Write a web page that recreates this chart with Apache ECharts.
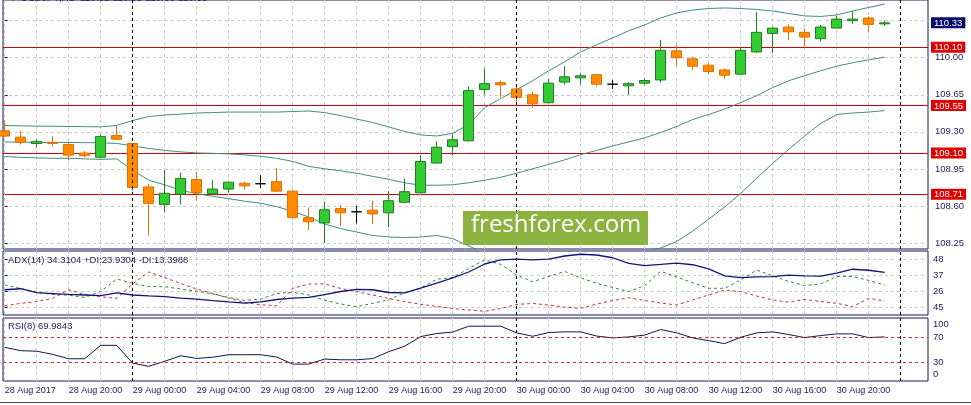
<!DOCTYPE html>
<html><head><meta charset="utf-8">
<script src="https://cdn.jsdelivr.net/npm/echarts@6/dist/echarts.min.js"></script>
<style>html,body{margin:0;padding:0;background:#fff}#c{width:971px;height:405px}</style>
</head><body><div id="c"></div>
<script>
// ---- data (hourly candles, index 0 = 28 Aug 16:00) ----
const open = [109.31,109.25,109.19,109.20,109.18,109.10,109.06,109.265,109.19,108.78,
108.615,108.71,108.85,108.715,108.76,108.815,108.81,108.83,108.74,108.49,
108.44,108.575,108.545,108.56,108.535,108.635,108.725,109.005,109.16,109.215,
109.70,109.765,109.705,109.65,109.575,109.77,109.81,109.84,109.75,109.735,
109.76,109.79,110.065,109.99,109.93,109.885,109.845,110.055,110.23,110.29,
110.24,110.18,110.28,110.35,110.375,110.32];
const high = [109.41,109.31,109.23,109.26,109.20,109.12,109.27,109.36,109.19,108.81,
108.94,108.915,108.92,108.845,108.825,108.83,108.89,108.96,108.755,108.585,
108.64,108.61,108.60,108.65,108.74,108.86,109.08,109.21,109.275,109.73,
109.895,109.785,109.73,109.68,109.80,109.92,109.85,109.84,109.79,109.77,
109.805,110.17,110.12,110.01,109.95,109.90,110.10,110.43,110.29,110.315,
110.275,110.31,110.395,110.44,110.39,110.35];
const low = [109.25,109.18,109.15,109.16,109.03,109.06,109.055,109.23,108.74,108.32,
108.54,108.615,108.65,108.71,108.73,108.755,108.77,108.73,108.48,108.37,
108.25,108.41,108.435,108.43,108.40,108.63,108.72,109.00,109.08,109.21,
109.65,109.625,109.565,109.525,109.575,109.745,109.75,109.73,109.705,109.65,
109.745,109.765,109.925,109.885,109.845,109.80,109.845,110.045,110.045,110.165,
110.105,110.155,110.28,110.32,110.245,110.30];
const close = [109.26,109.20,109.21,109.19,109.08,109.075,109.255,109.23,108.775,108.625,
108.72,108.86,108.725,108.76,108.825,108.79,108.81,108.74,108.49,108.45,
108.565,108.535,108.545,108.525,108.65,108.735,109.02,109.155,109.225,109.69,
109.755,109.745,109.625,109.565,109.76,109.82,109.83,109.75,109.75,109.755,
109.785,110.07,110.00,109.92,109.87,109.835,110.07,110.24,110.28,110.245,
110.195,110.29,110.365,110.365,110.315,110.33];

const bbUpper = [109.360,109.357,109.354,109.353,109.351,109.349,109.347,109.360,109.407,109.445,
109.459,109.468,109.478,109.482,109.487,109.487,109.487,109.487,109.492,109.497,
109.482,109.454,109.421,109.388,109.346,109.304,109.271,109.261,109.285,109.370,
109.529,109.614,109.699,109.783,109.877,109.962,110.056,110.122,110.188,110.254,
110.310,110.376,110.423,110.451,110.465,110.470,110.465,110.456,110.442,110.418,
110.395,110.390,110.404,110.442,110.475,110.508];
const bbMiddle = [109.205,109.203,109.200,109.200,109.200,109.198,109.197,109.191,109.167,109.144,
109.125,109.111,109.101,109.097,109.092,109.083,109.069,109.050,109.021,108.974,
108.951,108.932,108.909,108.880,108.852,108.819,108.796,108.796,108.800,108.819,
108.843,108.871,108.909,108.951,108.993,109.036,109.085,109.125,109.167,109.205,
109.243,109.294,109.351,109.417,109.464,109.515,109.577,109.642,109.718,109.783,
109.831,109.877,109.920,109.953,109.981,110.005];
const bbLower = [109.068,109.059,109.054,109.050,109.050,109.045,109.040,109.045,108.937,108.843,
108.800,108.749,108.716,108.692,108.669,108.645,108.626,108.593,108.551,108.495,
108.429,108.386,108.354,108.321,108.307,108.302,108.307,108.321,108.292,108.222,
108.156,108.128,108.118,108.118,108.109,108.109,108.109,108.137,108.147,108.156,
108.175,108.203,108.264,108.363,108.476,108.589,108.720,108.862,109.003,109.134,
109.262,109.379,109.464,109.478,109.487,109.501];

const adx = [27.2,27.9,25.2,24.6,24.0,23.6,23.1,25.1,23.6,23.0,
22.5,21.5,20.7,19.7,18.8,18.0,18.8,20.5,21.4,21.9,
23.8,26.0,27.5,27.2,25.3,25.1,28.3,31.8,35.3,39.4,
44.9,47.7,48.3,47.7,48.3,50.4,51.6,51.1,49.2,45.3,
43.8,44.6,45.5,44.4,41.5,36.7,35.5,36.1,36.2,37.3,
36.7,36.5,38.7,41.3,40.6,39.2];
const plusDI = [30.5,28.1,25.5,23.9,23.5,21.9,26.0,34.6,31.6,29.4,
29.3,27.7,26.2,24.3,21.9,19.8,20.8,24.6,25.5,23.6,
20.0,17.4,15.6,17.8,20.5,25.0,28.4,34.4,35.6,41.8,
47.7,44.7,37.3,32.7,36.3,39.8,35.4,31.6,28.8,25.9,
30.1,39.9,36.0,32.0,28.2,28.2,33.9,40.8,36.7,32.9,
30.1,31.2,36.3,36.3,33.6,30.5];
const minusDI = [16.2,17.8,19.1,21.3,27.2,23.9,22.4,21.3,31.2,39.4,
35.6,31.5,27.7,24.6,21.5,18.4,16.9,16.2,28.1,31.2,
31.2,28.1,25.8,23.6,21.2,19.1,17.2,15.7,14.3,13.3,
12.4,14.3,17.1,17.8,16.7,15.3,14.4,17.4,19.8,21.7,
19.8,18.1,16.7,20.2,23.6,27.0,25.9,22.9,20.2,18.6,
20.6,19.1,17.9,15.6,21.3,19.5];
const rsi = [53.5,48.1,47.3,42.3,35.3,35.3,56.6,56.6,28.4,23.3,
31.3,40.1,35.8,37.7,41.7,41.7,41.7,38.0,26.8,26.8,
34.8,33.7,33.7,35.6,46.5,55.3,70.5,75.3,77.7,87.0,
87.0,87.0,76.4,71.0,76.9,78.0,78.0,71.3,68.4,70.0,
72.9,81.7,76.4,68.4,64.1,59.3,69.4,76.4,78.0,73.7,
68.9,72.1,74.8,74.8,68.9,70.0];

const timeTickLabels = ['28 Aug 2017','28 Aug 20:00','29 Aug 00:00','29 Aug 04:00','29 Aug 08:00','29 Aug 12:00','29 Aug 16:00','29 Aug 20:00','30 Aug 00:00','30 Aug 04:00','30 Aug 08:00','30 Aug 12:00','30 Aug 16:00','30 Aug 20:00'];
const timeTickIndex = [0,4,8,12,16,20,24,28,32,36,40,44,48,52];
const timeGridIndex = [0,2,4,6,8,10,12,14,16,18,20,22,24,26,28,30,32,34,36,38,40,42,44,46,48,50,52,54,56];
const daySeparators = [8,32,56];
const priceTickValues = [108.25,108.60,108.95,109.30,109.65,110.00];
const priceGridValues = [108.25,108.60,108.95,109.30,109.65,110.00,110.35];
const levelLines = [110.10,109.55,109.10,108.71];
const lastPrice = 110.33;
const adxTickValues = [48,37,26,15];
const adxTickLabels = ['48','37','26','45'];
const rsiTickValues = [100,70,30,0];
const rsiTickLabels = ['100','70','30','0'];
const rsiLevels = [70,30];
const headerText = '\u25BC USDJPY,H1  110.32 110.35 110.30 110.33';
const adxTitle = 'ADX(14) 34.3104 +DI:23.9304 -DI:13.3988';
const rsiTitle = 'RSI(8) 69.9843';
const watermark = 'freshforex.com';

// ---- styles ----
const NAVY = '#1c1c5e';
const BORDER = '#16165a';
const GRIDC = '#c9c9c9';
const FONT = 'Liberation Sans';
const BB = '#3f8f7c';
const RED = '#d00000';
const PMIN = 108.1936, PMAX = 110.5454;

const candleData = open.map((o, i) => {
  const item = { value: [i, o, close[i], low[i], high[i]] };
  if (o === close[i]) item.itemStyle = { color: '#000', color0: '#000', borderColor: '#000', borderColor0: '#000' };
  return item;
});
const pts = arr => arr.map((v, i) => [i, v]);

function sepLine() {
  return {
    symbol: 'none', silent: true, label: { show: false },
    lineStyle: { color: '#000', type: [3, 3], width: 1 },
    data: daySeparators.map(v => ({ xAxis: v }))
  };
}

function xAxisFor(g, showLabels) {
  return {
    type: 'value', gridIndex: g, min: -0.106, max: 57.706,
    axisLine: { show: false },
    axisTick: { show: false, customValues: timeGridIndex },
    splitLine: { show: true, lineStyle: { color: GRIDC, type: [3, 3], width: 1 } },
    axisLabel: showLabels ? {
      show: true, customValues: timeTickIndex, align: 'left', margin: 5,
      color: NAVY, fontSize: 9, fontFamily: FONT,
      formatter: v => timeTickLabels[timeTickIndex.indexOf(Math.round(v))]
    } : { show: false }
  };
}

const boxStyle = bg => ({ backgroundColor: bg, color: '#fff', padding: [1, 3, 0, 3], fontSize: 9.5, fontFamily: FONT, lineHeight: 10 });

const chart = echarts.init(document.getElementById('c'), null, { renderer: 'canvas' });
chart.setOption({
  animation: false,
  backgroundColor: '#fff',
  textStyle: { fontFamily: FONT },
  grid: [
    { left: 3, right: 43, top: -1, height: 250, show: true, borderColor: BORDER, borderWidth: 1 },
    { left: 3, right: 43, top: 251, height: 64, show: true, borderColor: BORDER, borderWidth: 1 },
    { left: 3, right: 43, top: 318, height: 63, show: true, borderColor: BORDER, borderWidth: 1 }
  ],
  xAxis: [xAxisFor(0, false), xAxisFor(1, false), xAxisFor(2, true)],
  yAxis: [
    {
      type: 'value', gridIndex: 0, position: 'right', min: PMIN, max: PMAX,
      axisLine: { show: false },
      axisTick: { show: true, length: 3, customValues: priceGridValues, lineStyle: { color: NAVY } },
      axisLabel: { customValues: priceTickValues, formatter: v => v.toFixed(2), color: NAVY, fontSize: 9.5, fontFamily: FONT, margin: 7 },
      splitLine: { show: true, lineStyle: { color: GRIDC, type: [3, 3], width: 1 } }
    },
    {
      type: 'value', gridIndex: 1, position: 'right', min: 9.84, max: 53.84,
      axisLine: { show: false },
      axisTick: { show: true, length: 3, customValues: adxTickValues, lineStyle: { color: NAVY } },
      axisLabel: { customValues: adxTickValues, formatter: v => adxTickLabels[adxTickValues.indexOf(v)], color: NAVY, fontSize: 9.5, fontFamily: FONT, margin: 5 },
      splitLine: { show: true, lineStyle: { color: GRIDC, type: [3, 3], width: 1 } }
    },
    {
      type: 'value', gridIndex: 2, position: 'right', min: 0, max: 100,
      axisLine: { show: false },
      axisTick: { show: false, customValues: rsiTickValues },
      axisLabel: {
        customValues: rsiTickValues, color: NAVY, fontSize: 9.5, fontFamily: FONT, margin: 5,
        formatter: v => {
          const s = rsiTickLabels[rsiTickValues.indexOf(v)];
          if (v === rsiTickValues[0]) return '{t|' + s + '}';
          if (v === rsiTickValues[rsiTickValues.length - 1]) return '{b|' + s + '}';
          return s;
        },
        rich: {
          t: { padding: [12, 0, 0, 0], color: NAVY, fontSize: 9.5, fontFamily: FONT },
          b: { padding: [0, 0, 14, 0], color: NAVY, fontSize: 9.5, fontFamily: FONT }
        }
      },
      splitLine: { show: false }
    },
    {
      // horizontal support/resistance levels + last price marker
      type: 'value', gridIndex: 0, position: 'right', min: PMIN, max: PMAX,
      axisLine: { show: false },
      axisTick: { show: false, customValues: levelLines },
      splitLine: { show: true, lineStyle: { color: RED, type: 'solid', width: 1 } },
      axisLabel: {
        customValues: levelLines.concat([lastPrice]), margin: 3,
        formatter: v => (v === lastPrice ? '{n|' : '{r|') + v.toFixed(2) + '}',
        rich: { r: boxStyle('#e00000'), n: boxStyle('#0a0a6e') }
      }
    }
  ],
  series: [
    { type: 'line', xAxisIndex: 0, yAxisIndex: 0, data: pts(bbUpper), symbol: 'none', color: BB, lineStyle: { color: BB, width: 1 }, markLine: sepLine() },
    { type: 'line', xAxisIndex: 0, yAxisIndex: 0, data: pts(bbMiddle), symbol: 'none', color: BB, lineStyle: { color: BB, width: 1 } },
    { type: 'line', xAxisIndex: 0, yAxisIndex: 0, data: pts(bbLower), symbol: 'none', color: BB, lineStyle: { color: BB, width: 1 } },
    {
      type: 'candlestick', xAxisIndex: 0, yAxisIndex: 0, barWidth: 10, clip: true, z: 3,
      itemStyle: { color: '#33cc33', color0: '#ff8c00', borderColor: '#1f7f1f', borderColor0: '#e07000', borderWidth: 1 },
      data: candleData
    },
    { type: 'line', xAxisIndex: 1, yAxisIndex: 1, data: pts(plusDI), symbol: 'none', color: '#2f8a2f', lineStyle: { color: '#2f8a2f', width: 1, type: [3, 3] } },
    { type: 'line', xAxisIndex: 1, yAxisIndex: 1, data: pts(minusDI), symbol: 'none', color: '#c83232', lineStyle: { color: '#c83232', width: 1, type: [3, 3] } },
    { type: 'line', xAxisIndex: 1, yAxisIndex: 1, data: pts(adx), symbol: 'none', color: '#141478', lineStyle: { color: '#141478', width: 1.3 }, markLine: sepLine() },
    {
      type: 'line', xAxisIndex: 2, yAxisIndex: 2, data: pts(rsi), symbol: 'none', color: '#141450', lineStyle: { color: '#141450', width: 1 },
      markLine: {
        symbol: 'none', silent: true, label: { show: false },
        data: rsiLevels.map(v => ({ yAxis: v, lineStyle: { color: '#c83232', type: [3, 3], width: 1 } }))
          .concat(daySeparators.map(v => ({ xAxis: v, lineStyle: { color: '#000', type: [3, 3], width: 1 } })))
      }
    }
  ],
  graphic: [
    { type: 'text', left: 8, top: -7, style: { text: headerText, fill: NAVY, font: '10px "Liberation Sans"' }, z: 100 },
    { type: 'text', left: 8, top: 255, style: { text: adxTitle, fill: NAVY, font: '9.5px "Liberation Sans"' }, z: 100 },
    { type: 'text', left: 8, top: 321, style: { text: rsiTitle, fill: NAVY, font: '9.5px "Liberation Sans"' }, z: 100 },
    { type: 'rect', left: 463, top: 211, shape: { width: 185, height: 34 }, style: { fill: '#8cb23f' }, z: 100 },
    { type: 'text', left: 471, top: 213, style: { text: watermark, fill: '#fff', font: '24px "Open Sans"' }, z: 101 },
    { type: 'line', shape: { x1: 0, y1: 402.5, x2: 971, y2: 402.5 }, style: { stroke: '#444', lineWidth: 1 }, z: 100 }
  ]
});
</script>
</body></html>
